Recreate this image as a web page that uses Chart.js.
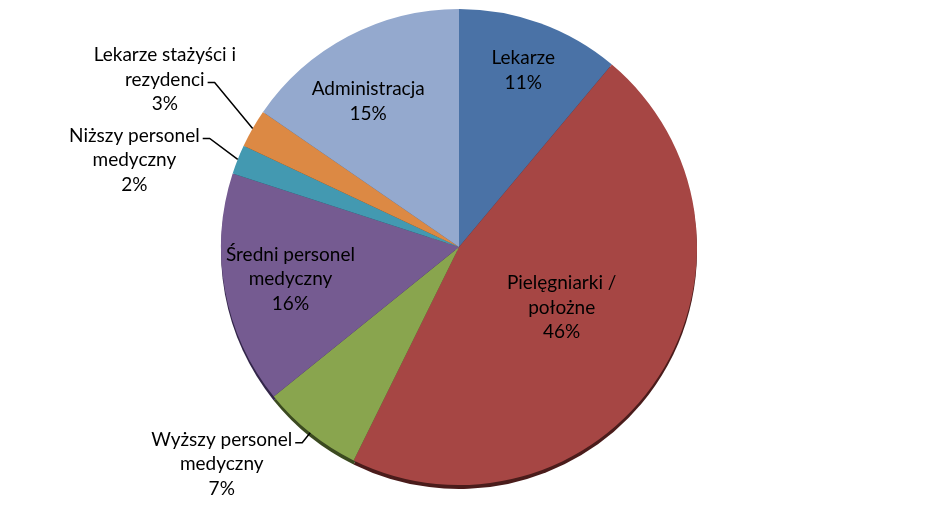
<!DOCTYPE html>
<html>
<head>
<meta charset="utf-8">
<script src="https://cdn.jsdelivr.net/npm/chart.js"></script>
<style>
  html, body { margin: 0; padding: 0; background: #fff; }
  #wrap { width: 932px; height: 511px; }
</style>
</head>
<body>
<div id="wrap"><canvas id="staff"></canvas></div>
<script>
// categories and shares (%) of staff groups
var categories = [
  "Lekarze",
  "Pielęgniarki /\npołożne",
  "Wyższy personel\nmedyczny",
  "Średni personel\nmedyczny",
  "Niższy personel\nmedyczny",
  "Lekarze stażyści i\nrezydenci",
  "Administracja",
];
var shares = [11.1, 46.2, 6.9, 15.8, 2.0, 2.6, 15.4];

var sliceColors = ["#4a72a6", "#a64644", "#89a54e", "#755b91", "#4399b1", "#dc8944", "#94a9ce"];
var edgeColors = ["#233a57", "#4a1c1b", "#3b4a20", "#33264a", "#1d4653", "#6b3c15", "#46546e"];

// where each label goes: inside at a fraction of the radius, or outside with a leader line
var labelPlace = [
  { k: 0.79 },
  { k: 0.49, dx: 5, dy: -3 },
  { elbow: [-8, 10], attach: 0 },
  { k: 0.72, dy: 1 },
  { elbow: [-28, -21], attach: 0 },
  { elbow: [-38, -46], attach: 1 },
  { k: 0.73, dx: -10, dy: 8 },
];

var FONT = '19px "Lato", "Open Sans", sans-serif';
var LINE_H = 24.5;

var edgePlugin = {
  id: "edge",
  beforeDatasetsDraw(chart) {
    var ctx = chart.ctx;
    chart.getDatasetMeta(0).data.forEach((arc, i) => {
      var p = arc.getProps(["x", "y", "startAngle", "endAngle", "outerRadius"], true);
      ctx.save();
      ctx.beginPath();
      ctx.moveTo(p.x, p.y + 4);
      ctx.arc(p.x, p.y + 4, p.outerRadius, p.startAngle, p.endAngle);
      ctx.closePath();
      ctx.fillStyle = edgeColors[i];
      ctx.fill();
      ctx.restore();
    });
  },
};

var labelPlugin = {
  id: "sliceLabels",
  afterDatasetsDraw(chart) {
    var ctx = chart.ctx;
    var total = shares.reduce((a, b) => a + b, 0);
    ctx.save();
    ctx.font = FONT;
    ctx.fillStyle = "#000";
    ctx.textAlign = "center";
    ctx.textBaseline = "middle";
    chart.getDatasetMeta(0).data.forEach((arc, i) => {
      var p = arc.getProps(["x", "y", "startAngle", "endAngle", "outerRadius"], true);
      var mid = (p.startAngle + p.endAngle) / 2;
      var lines = categories[i].split("\n");
      lines.push(Math.round((shares[i] / total) * 100) + "%");
      var place = labelPlace[i];
      var cx, top;
      if (place.k) {
        cx = p.x + Math.cos(mid) * p.outerRadius * place.k + (place.dx || 0);
        var cy = p.y + Math.sin(mid) * p.outerRadius * place.k + (place.dy || 0);
        top = cy - ((lines.length - 1) * LINE_H) / 2;
      } else {
        var ex = p.x + Math.cos(mid) * p.outerRadius;
        var ey = p.y + Math.sin(mid) * p.outerRadius;
        var bx = ex + place.elbow[0];
        var by = ey + place.elbow[1];
        var ax = bx - 7;
        ctx.beginPath();
        ctx.moveTo(ex, ey);
        ctx.lineTo(bx, by);
        ctx.lineTo(ax, by);
        ctx.strokeStyle = "#000";
        ctx.lineWidth = 1.5;
        ctx.stroke();
        var w = ctx.measureText(lines[place.attach]).width;
        cx = ax - 3 - w / 2;
        top = by - 3 - place.attach * LINE_H;
      }
      lines.forEach((t, j) => ctx.fillText(t, cx, top + j * LINE_H));
    });
    ctx.restore();
  },
};

new Chart("staff", {
  type: "pie",
  data: {
    labels: categories,
    datasets: [
      {
        data: shares,
        backgroundColor: sliceColors,
        borderWidth: 0,
      },
    ],
  },
  options: {
    responsive: true,
    maintainAspectRatio: false,
    animation: false,
    layout: { padding: { top: 9, bottom: 26, left: 0, right: 14 } },
    plugins: {
      legend: { display: false },
      tooltip: { enabled: false },
    },
  },
  plugins: [edgePlugin, labelPlugin],
});
</script>
</body>
</html>
